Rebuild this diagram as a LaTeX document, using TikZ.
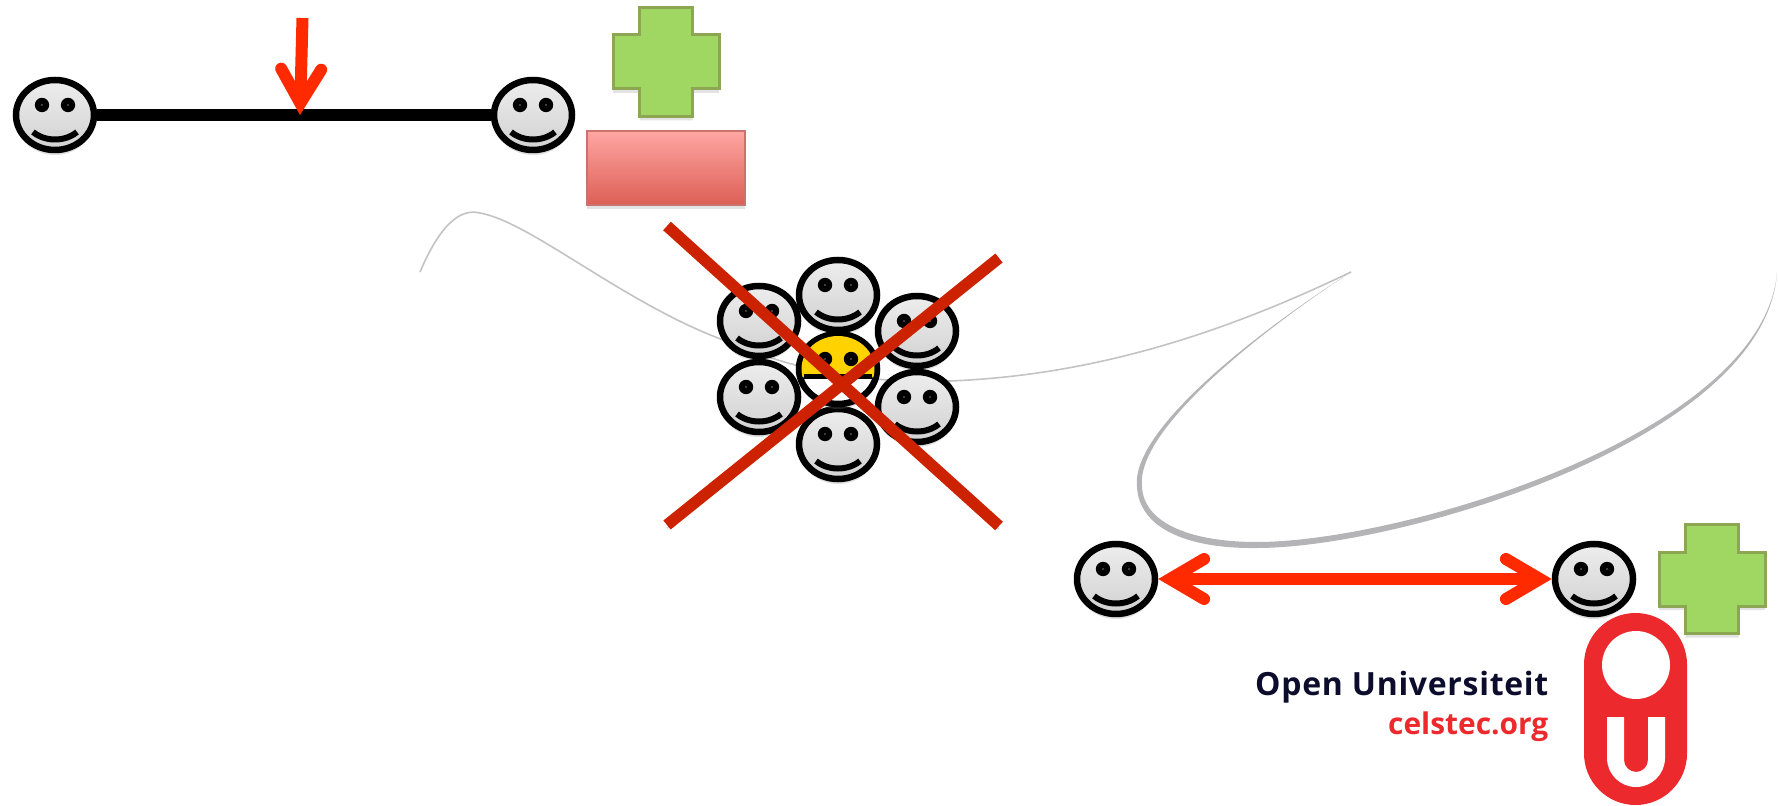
\documentclass[tikz,border=0pt]{standalone}
\usepackage{fontspec}
\newfontfamily\logofont{Open Sans}
\usetikzlibrary{arrows.meta,shapes.geometric,shadows}
\definecolor{arrowred}{HTML}{FF2A00}
\definecolor{crossred}{HTML}{CC2200}
\definecolor{logored}{HTML}{EC2A2E}
\definecolor{logoblue}{HTML}{0C0C2C}
\definecolor{plusgreen}{HTML}{A0D662}
\definecolor{plusedge}{HTML}{8CA653}
\definecolor{sadyellow}{HTML}{FFD200}
\definecolor{curvegrey}{HTML}{B4B4B6}
\definecolor{minustop}{HTML}{FFA6A3}
\definecolor{minusbottom}{HTML}{DC5F55}
\definecolor{minusedge}{HTML}{C9736D}
\tikzset{
  softshadow/.style={preaction={draw=black,opacity=.18,transform canvas={yshift=-.03cm}}},
  facebody/.style={ellipse,draw=black,line width=.065cm,minimum width=.78cm,minimum height=.70cm,inner sep=0,
    top color=black!7,bottom color=black!18,drop shadow={shadow xshift=0cm,shadow yshift=-.05cm,opacity=.25}},
  barb/.tip={Straight Barb[length=.34cm,width=.40cm,line cap=round,line join=miter]},
  redarrow/.style={draw=arrowred,line width=.12cm,softshadow},
  crossline/.style={draw=crossred,line width=.115cm,softshadow},
  curveline/.style={draw=curvegrey!80,line width=.016cm},
  eyes/.pic={
    \fill (-0.13,0.10) circle (0.072);
    \fill (0.13,0.10) circle (0.072);
    \fill [white] (-0.13,0.10) circle (0.006);
    \fill [white] (0.13,0.10) circle (0.006);
  },
  smile/.pic={
    \pic {eyes};
    \draw [line width=.06cm] (-0.22,-0.17) .. controls (-0.1,-0.27) and (0.1,-0.27) .. (0.22,-0.17);
  },
  plusmark/.pic={
    \draw [draw=plusedge,fill=plusgreen,line width=.03cm,drop shadow={shadow xshift=0cm,shadow yshift=-.04cm,opacity=.22}]
    (-0.265,0.545) -- (0.265,0.545) -- (0.265,0.27) -- (0.53,0.27) -- (0.53,-0.27) -- (0.265,-0.27)
    -- (0.265,-0.545) -- (-0.265,-0.545) -- (-0.265,-0.27) -- (-0.53,-0.27) -- (-0.53,0.27) -- (-0.265,0.27) -- cycle;
  },
}
\begin{document}
\begin{tikzpicture}
  \useasboundingbox (0,0) rectangle (17.78,8.05);
  % grey curve behind everything
  \draw [curveline] (4.20,5.33) .. controls (4.40,5.80) and (4.60,5.97) .. (4.80,5.92)
  .. controls (5.30,5.83) and (6.20,5.05) .. (7.18,4.67)
  .. controls (7.60,4.50) and (8.30,4.20) .. (9.50,4.24)
  .. controls (11.00,4.30) and (12.30,4.75) .. (13.51,5.33);
  \fill [curvegrey] (13.51,5.33) .. controls (12.60,4.75) and (11.30,3.75) .. (11.37,3.18)
  .. controls (11.39,2.78) and (11.85,2.56) .. (12.57,2.57)
  .. controls (14.00,2.57) and (17.65,3.65) .. (17.77,5.32)
  .. controls (17.62,3.70) and (14.00,2.63) .. (12.57,2.63)
  .. controls (11.90,2.63) and (11.44,2.82) .. (11.42,3.18)
  .. controls (11.35,3.75) and (12.62,4.75) .. (13.51,5.33) -- cycle;
  % logo
  \fill [logored] (15.84,0.515) arc (180:360:0.515) -- (16.87,1.405) arc (0:180:0.515) -- cycle;
  \fill [white] (16.36,1.40) circle (0.34);
  \fill [white] (16.07,0.88) -- (16.07,0.47) arc (180:360:0.29) -- (16.65,0.88) -- (16.48,0.88)
  -- (16.48,0.45) arc (0:-180:0.12) -- (16.24,0.88) -- cycle;
  \node [anchor=base east,inner sep=0,text=logoblue,font={\logofont\bfseries\fontsize{9.1}{11}\selectfont\addfontfeature{LetterSpace=2.2}}]
  (ouname) at (15.49,1.10) {Open Universiteit};
  \node [anchor=base east,inner sep=0,text=logored,font={\logofont\bfseries\fontsize{8.5}{11}\selectfont}]
  (ouweb) at (15.49,0.71) {celstec.org};
  % top left pair
  \node [facebody] (faceA) at (0.55,6.90) {};
  \node [facebody] (faceB) at (5.33,6.90) {};
  \pic at (faceA) {smile};
  \pic at (faceB) {smile};
  \draw [line width=.125cm,softshadow] (faceA) -- (faceB);
  \coordinate (dropTop) at (3.025,7.87);
  \coordinate (dropTip) at (3.00,6.90);
  \draw [redarrow,-{barb}] (dropTop) -- (dropTip);
  \pic at (6.66,7.43) {plusmark};
  \node [draw=minusedge,line width=.02cm,top color=minustop,bottom color=minusbottom,minimum width=1.58cm,minimum height=.74cm,
  drop shadow={shadow xshift=0cm,shadow yshift=-.04cm,opacity=.22}] (minusbox) at (6.66,6.37) {};
  % the crowd
  \foreach \name/\pos in {crowdTop/{(8.38,5.10)},crowdUL/{(7.59,4.84)},crowdUR/{(9.17,4.74)},
    crowdLL/{(7.59,4.08)},crowdLR/{(9.17,3.98)},crowdBot/{(8.38,3.61)}} {
    \node [facebody] (\name) at \pos {};
    \pic at (\name) {smile};
  }
  \node [facebody,top color=white,bottom color=white] (crowdMid) at (8.38,4.36) {};
  \begin{scope}
    \clip (crowdMid.center) ellipse (0.365 and 0.33);
    \fill [sadyellow] (7.8,4.28) rectangle (9.0,4.9);
  \end{scope}
  \pic at (crowdMid) {eyes};
  \draw [line width=.05cm] (8.04,4.28) -- (8.72,4.28);
  \coordinate (crossA) at (6.67,5.79);
  \coordinate (crossB) at (9.99,2.79);
  \coordinate (crossC) at (9.99,5.47);
  \coordinate (crossD) at (6.67,2.80);
  \draw [crossline] (crossA) -- (crossB);
  \draw [crossline] (crossC) -- (crossD);
  % bottom right pair
  \node [facebody] (faceC) at (11.16,2.26) {};
  \node [facebody] (faceD) at (15.94,2.26) {};
  \pic at (faceC) {smile};
  \pic at (faceD) {smile};
  \draw [redarrow,{barb}-{barb}] (faceC) -- (faceD);
  \pic at (17.12,2.26) {plusmark};
\end{tikzpicture}
\end{document}
